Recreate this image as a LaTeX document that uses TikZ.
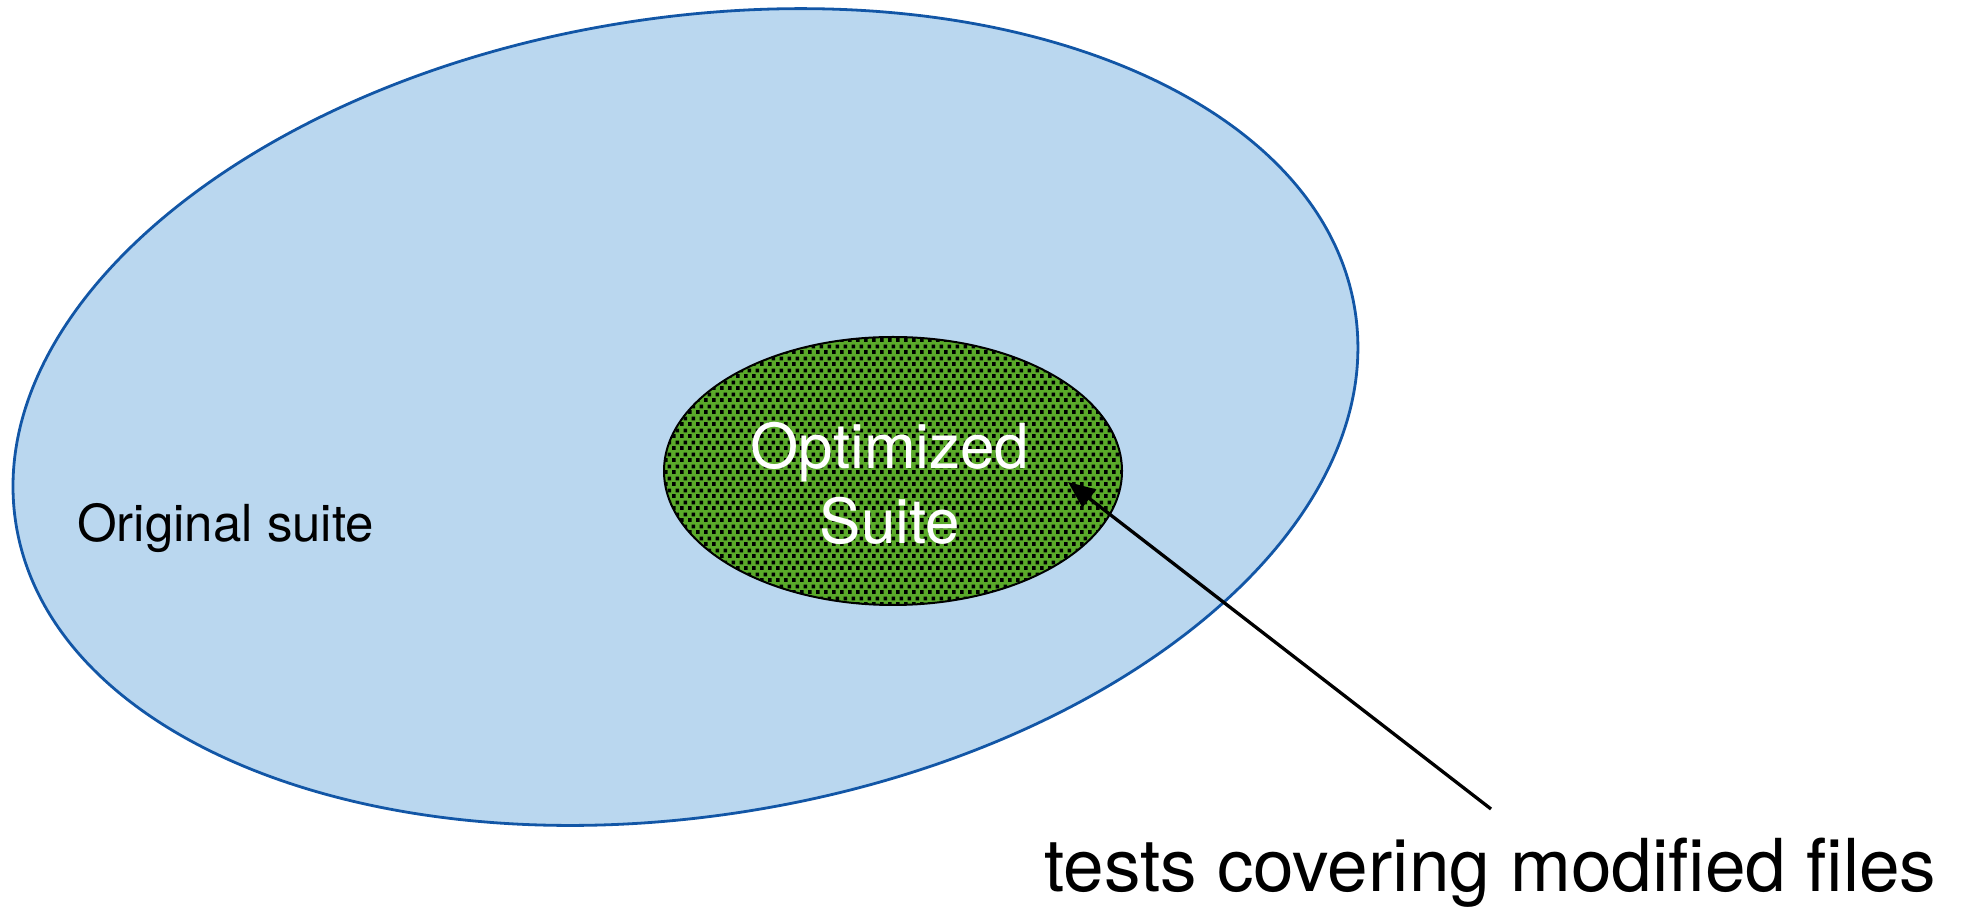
\documentclass[tikz,border=0pt]{standalone}
\usepackage{fontspec}
\setmainfont{TeX Gyre Heros}
\usetikzlibrary{patterns,arrows.meta}
\pgfdeclarepatternformonly{greenchecks}{\pgfpointorigin}{\pgfqpoint{8pt}{11.6pt}}{\pgfqpoint{8pt}{11.6pt}}{%
  \pgfpathrectangle{\pgfpointorigin}{\pgfqpoint{4pt}{4pt}}%
  \pgfpathrectangle{\pgfqpoint{4pt}{5.8pt}}{\pgfqpoint{4pt}{4pt}}%
  \pgfusepath{fill}}
\definecolor{suiteblue}{RGB}{186,215,239}
\definecolor{suiteedge}{RGB}{18,86,166}
\definecolor{optgreen}{RGB}{90,170,42}
\tikzset{
  bigset/.style={draw=suiteedge, line width=2.8pt, fill=suiteblue},
  optset/.style={draw=black, line width=2pt, preaction={fill=optgreen}, pattern=greenchecks, pattern color=black},
  pointer/.style={line width=3.3pt, -{Triangle[length=27pt,width=22pt]}},
}
\begin{document}
\begin{tikzpicture}[x=1pt,y=1pt]
\useasboundingbox (0,0) rectangle (1964,907);
\coordinate (bigc) at (685.5,490);
\coordinate (optc) at (893,436);
\draw[bigset, rotate around={9.1:(bigc)}] (bigc) ellipse [x radius=678, y radius=399];
\draw[optset] (optc) ellipse [x radius=229, y radius=134];
\node[font=\fontsize{51}{60}\selectfont, anchor=base west, inner sep=0] (orig) at (77,365) {Original suite};
\node[font=\fontsize{62}{75}\selectfont, text=white, align=center, inner sep=0] (opt) at (890,424) {Optimized\\Suite};
\node[font=\fontsize{73}{80}\selectfont, anchor=base west, inner sep=0] (tests) at (1044,15) {tests covering modified files};
\coordinate (tail) at (1491,98);
\coordinate (tip) at (1068,425);
\draw[pointer] (tail) -- (tip);
\end{tikzpicture}
\end{document}
